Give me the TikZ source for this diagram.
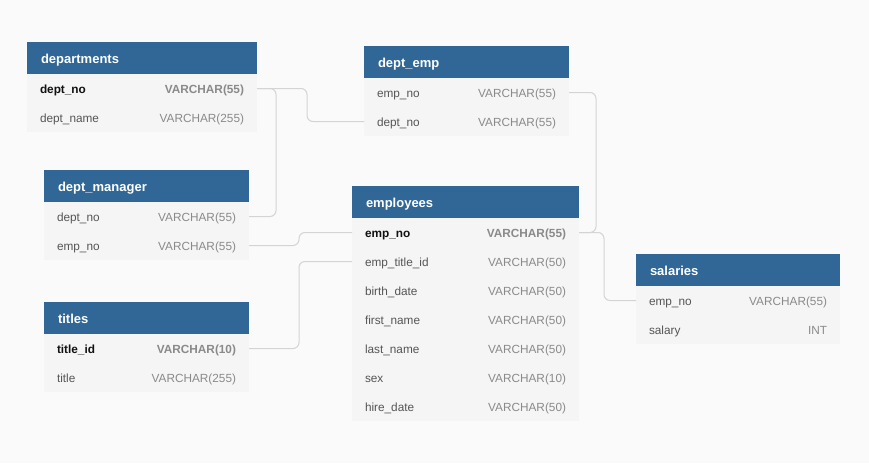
\documentclass[tikz,border=0pt]{standalone}
\usepackage{fontspec}
\setmainfont{Liberation Sans}
\usetikzlibrary{positioning}
\definecolor{erdBlue}{RGB}{49,103,150}
\definecolor{erdRow}{RGB}{245,245,245}
\definecolor{erdCanvas}{RGB}{250,250,250}
\definecolor{erdName}{RGB}{85,85,85}
\definecolor{erdKey}{RGB}{17,17,17}
\definecolor{erdType}{RGB}{138,138,138}
\definecolor{erdLink}{RGB}{212,212,212}
\newcommand{\erdfield}[2]{{\color{erdName}#1}\hfill#2}
\newcommand{\erdkey}[2]{{\color{erdKey}#1}\hfill#2}

\begin{document}
\begin{tikzpicture}[
  x=1pt,y=-1pt,
  tabhead/.style={
    fill=erdBlue,
    text=white,
    anchor=north west,
    text width=#1,
    align=left,
    minimum height=32pt,
    inner xsep=14pt,
    inner ysep=0pt,
    outer sep=0pt,
    text height=11pt,
    text depth=0pt,
    font=\fontsize{13}{15}\selectfont\bfseries
  },
  tabrow/.style={
    fill=erdRow,
    text=erdType,
    text width=#1,
    align=left,
    minimum height=29pt,
    inner xsep=13pt,
    inner ysep=0pt,
    outer sep=0pt,
    text height=10.2pt,
    text depth=0pt,
    font=\fontsize{11.8}{14}\selectfont
  },
  keyrow/.style={tabrow=#1,font=\fontsize{11.8}{14}\selectfont\bfseries},
  link/.style={draw=erdLink,line width=1pt,rounded corners=6pt}
]
  \fill[erdCanvas] (0,0) rectangle (869,463);

  % departments
  \node[tabhead=202pt] (dep-h) at (27,42) {departments};
  \node[keyrow=204pt,below=0pt of dep-h] (dep-1) {\erdkey{dept\_no}{VARCHAR(55)}};
  \node[tabrow=204pt,below=0pt of dep-1] (dep-2) {\erdfield{dept\_name}{VARCHAR(255)}};

  % dept_emp
  \node[tabhead=177pt] (demp-h) at (364,46) {dept\_emp};
  \node[tabrow=179pt,below=0pt of demp-h] (demp-1) {\erdfield{emp\_no}{VARCHAR(55)}};
  \node[tabrow=179pt,below=0pt of demp-1] (demp-2) {\erdfield{dept\_no}{VARCHAR(55)}};

  % dept_manager
  \node[tabhead=177pt] (dman-h) at (44,170) {dept\_manager};
  \node[tabrow=179pt,below=0pt of dman-h] (dman-1) {\erdfield{dept\_no}{VARCHAR(55)}};
  \node[tabrow=179pt,below=0pt of dman-1] (dman-2) {\erdfield{emp\_no}{VARCHAR(55)}};

  % titles
  \node[tabhead=177pt] (tit-h) at (44,302) {titles};
  \node[keyrow=179pt,below=0pt of tit-h] (tit-1) {\erdkey{title\_id}{VARCHAR(10)}};
  \node[tabrow=179pt,below=0pt of tit-1] (tit-2) {\erdfield{title}{VARCHAR(255)}};

  % employees
  \node[tabhead=199pt] (emp-h) at (352,186) {employees};
  \node[keyrow=201pt,below=0pt of emp-h] (emp-1) {\erdkey{emp\_no}{VARCHAR(55)}};
  \foreach \fname/\ftype [count=\i from 2, remember=\i as \j (initially 1)] in
    {emp\_title\_id/VARCHAR(50), birth\_date/VARCHAR(50), first\_name/VARCHAR(50),
     last\_name/VARCHAR(50), sex/VARCHAR(10), hire\_date/VARCHAR(50)}
    \node[tabrow=201pt,below=0pt of emp-\j] (emp-\i) {\erdfield{\fname}{\ftype}};

  % salaries
  \node[tabhead=176pt] (sal-h) at (636,254) {salaries};
  \node[tabrow=178pt,below=0pt of sal-h] (sal-1) {\erdfield{emp\_no}{VARCHAR(55)}};
  \node[tabrow=178pt,below=0pt of sal-1] (sal-2) {\erdfield{salary}{INT}};

  % relations
  \draw[link] (dep-1.east) -- ++(19,0) |- (dman-1.east);
  \draw[link] (dep-1.east) -- ++(50,0) |- (demp-2.west);
  \draw[link] (dman-2.east) -- ++(50,0) |- (emp-1.west);
  \draw[link] (tit-1.east) -- ++(50,0) |- (emp-2.west);
  \draw[link] (demp-1.east) -- ++(27,0) |- (emp-1.east);
  \draw[link] (emp-1.east) -- ++(25,0) |- (sal-1.west);
\end{tikzpicture}
\end{document}
